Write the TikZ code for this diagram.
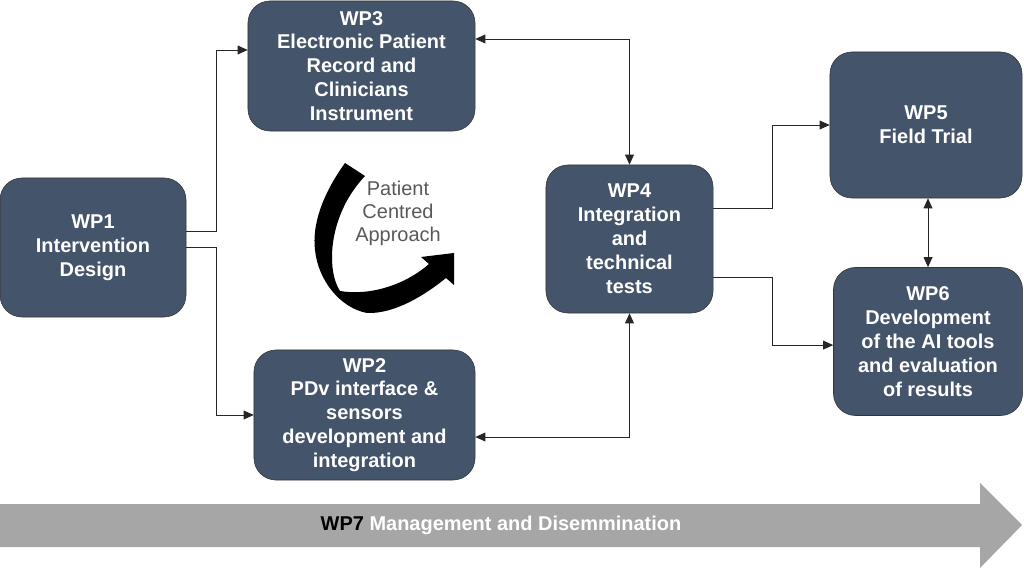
\documentclass[tikz,border=0pt]{standalone}
\usepackage{fontspec}
\setmainfont{Liberation Sans}
\usepackage{tikz}
\usetikzlibrary{positioning, arrows.meta}

\definecolor{wpblue}{HTML}{44546A}
\definecolor{wpgray}{HTML}{A6A6A6}
\definecolor{pcgray}{HTML}{595959}

\tikzset{
  wp/.style={draw=black!80, fill=wpblue, rounded corners=0.55cm, text=white, align=center,
    font=\fontsize{14.2}{17}\selectfont\bfseries, inner sep=0pt},
  link/.style={draw=black!85, line width=0.6pt, -{Triangle[length=2.5mm,width=2.2mm]}},
  twolink/.style={link, {Triangle[length=2.5mm,width=2.2mm]}-{Triangle[length=2.5mm,width=2.2mm]}}
}

\begin{document}
\begin{tikzpicture}[x=0.025cm, y=-0.025cm]
	\useasboundingbox (0,0) rectangle (1024,569);

	\fill[wpgray] (0,504) -- (980,504) -- (980,483) -- (1022,525) -- (980,568) -- (980,547) -- (0,547) -- cycle;
	\node[font=\fontsize{14.2}{17}\selectfont\bfseries, text=white] (wp7) at (501,525) {\textcolor{black}{WP7} Management and Disemmination};

	\node[wp, minimum width=4.65cm, minimum height=3.475cm] (wp1) at (93,247.5) {WP1\\Intervention\\Design};
	\node[wp, minimum width=5.675cm, minimum height=3.25cm] (wp3) at (361.5,66) {WP3\\Electronic Patient\\Record and\\Clinicians\\Instrument};
	\node[wp, minimum width=5.525cm, minimum height=3.25cm] (wp2) at (364.5,415) {WP2\\PDv interface \&\\sensors\\development and\\integration};
	\node[wp, minimum width=4.175cm, minimum height=3.7cm] (wp4) at (629.5,239) {WP4\\Integration\\and\\technical\\tests};
	\node[wp, minimum width=4.8cm, minimum height=3.65cm] (wp5) at (926,125) {WP5\\Field Trial};
	\node[wp, minimum width=4.725cm, minimum height=3.7cm] (wp6) at (928,341.5) {WP6\\Development\\of the AI tools\\and evaluation\\of results};

	\fill[black] (345,163) .. controls (322,195) and (312,225) .. (315,250)
		.. controls (318,280) and (340,308) .. (367,313)
		.. controls (395,314) and (425,295) .. (446,278)
		-- (454,285) -- (454,253) -- (421,257) -- (429,264)
		.. controls (405,285) and (370,296) .. (340,291)
		.. controls (326,270) and (328,215) .. (365,176) -- cycle;
	\node[font=\fontsize{14.2}{16.3}\selectfont, text=pcgray, align=center] (pca) at (398,213) {Patient\\Centred\\Approach};

	\draw[link] ([yshift=0.39cm]wp1.east) -- ++(30,0) |- ([yshift=0.4cm]wp3.west);
	\draw[link] (wp1.east) -- ++(30,0) |- (wp2.west);
	\draw[twolink] ([yshift=0.675cm]wp3.east) -| (wp4.north);
	\draw[twolink] ([yshift=-0.55cm]wp2.east) -| (wp4.south);
	\draw[link] ([yshift=0.775cm]wp4.east) -- ++(59,0) |- (wp5.west);
	\draw[link] ([yshift=-0.95cm]wp4.east) -- ++(59,0) |- ([yshift=-0.09cm]wp6.west);
	\draw[twolink] (wp6.north |- wp5.south) -- (wp6.north);
\end{tikzpicture}
\end{document}
